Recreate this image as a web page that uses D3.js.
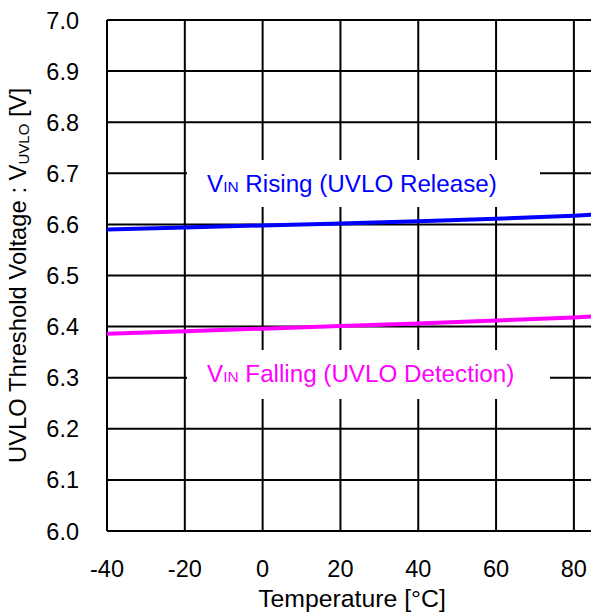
<!DOCTYPE html>
<html><head><meta charset="utf-8">
<script src="https://cdn.jsdelivr.net/npm/d3@7"></script>
<style>
html,body{margin:0;padding:0;background:#fff;}
svg{display:block;}
text{font-family:"Liberation Sans",Arial,sans-serif;}
</style></head>
<body>
<script>
const temps = [-40, -20, 0, 20, 40, 60, 80, 85];
const rising = [6.590, 6.594, 6.598, 6.602, 6.606, 6.611, 6.617, 6.619];
const falling = [6.386, 6.391, 6.396, 6.401, 6.406, 6.412, 6.418, 6.420];
const xTicks = [-40, -20, 0, 20, 40, 60, 80];
const yTicks = [6.0, 6.1, 6.2, 6.3, 6.4, 6.5, 6.6, 6.7, 6.8, 6.9, 7.0];

const W = 591, H = 614;
const L = 107, T = 20, B = 531, R = 591;
const svg = d3.select("body").append("svg").attr("width", W).attr("height", H);
const x = d3.scaleLinear().domain([-40, 84.4]).range([L, R]);
const y = d3.scaleLinear().domain([6.0, 7.0]).range([B, T]);

svg.append("defs").append("clipPath").attr("id","clip")
  .append("rect").attr("x", L).attr("y", T).attr("width", R - L).attr("height", B - T);

// grid
const g = svg.append("g");
g.selectAll("line.h").data(yTicks).join("line")
  .attr("x1", L).attr("x2", R).attr("y1", d => y(d)).attr("y2", d => y(d))
  .attr("stroke", "#000").attr("stroke-width", 2);
g.selectAll("line.v").data(xTicks).join("line")
  .attr("x1", d => x(d)).attr("x2", d => x(d)).attr("y1", T).attr("y2", B)
  .attr("stroke", "#000").attr("stroke-width", 2);

// tick labels
svg.append("g").selectAll("text").data(yTicks).join("text")
  .attr("x", 79).attr("y", d => y(d) + 8.5).attr("text-anchor", "end")
  .attr("font-size", 23.5).text(d => d.toFixed(1));
svg.append("g").selectAll("text").data(xTicks).join("text")
  .attr("x", d => x(d)).attr("y", 577).attr("text-anchor", "middle")
  .attr("font-size", 23.5).text(d => d);

// axis titles
svg.append("text").attr("x", 352).attr("y", 607).attr("text-anchor", "middle")
  .attr("font-size", 24.8).text("Temperature [°C]");
const yt = svg.append("text").attr("transform", `translate(26,${(T + B) / 2}) rotate(-90)`)
  .attr("text-anchor", "middle").attr("font-size", 23.8);
yt.append("tspan").text("UVLO Threshold Voltage : V");
yt.append("tspan").attr("font-size", 15).attr("dy", 3).text("UVLO");
yt.append("tspan").attr("dy", -3).text(" [V]");

// label boxes
svg.append("rect").attr("x", 187).attr("y", 160).attr("width", 353).attr("height", 47).attr("fill", "#fff");
svg.append("rect").attr("x", 187).attr("y", 350).attr("width", 363).attr("height", 49).attr("fill", "#fff");

// lines
const line = vals => d3.line().x((d, i) => x(temps[i])).y(d => y(d))(vals);
const lg = svg.append("g").attr("clip-path", "url(#clip)");
lg.append("path").attr("d", line(rising)).attr("fill", "none").attr("stroke", "#0000ff").attr("stroke-width", 4);
lg.append("path").attr("d", line(falling)).attr("fill", "none").attr("stroke", "#ff00ff").attr("stroke-width", 4);

// labels
const t1 = svg.append("text").attr("x", 207).attr("y", 192).attr("font-size", 24.2).attr("fill", "#0000ff");
t1.append("tspan").text("V");
t1.append("tspan").attr("font-size", 15.5).text("IN");
t1.append("tspan").text(" Rising (UVLO Release)");
const t2 = svg.append("text").attr("x", 207).attr("y", 382).attr("font-size", 24.2).attr("fill", "#ff00ff");
t2.append("tspan").text("V");
t2.append("tspan").attr("font-size", 15.5).text("IN");
t2.append("tspan").text(" Falling (UVLO Detection)");
</script>
</body></html>
